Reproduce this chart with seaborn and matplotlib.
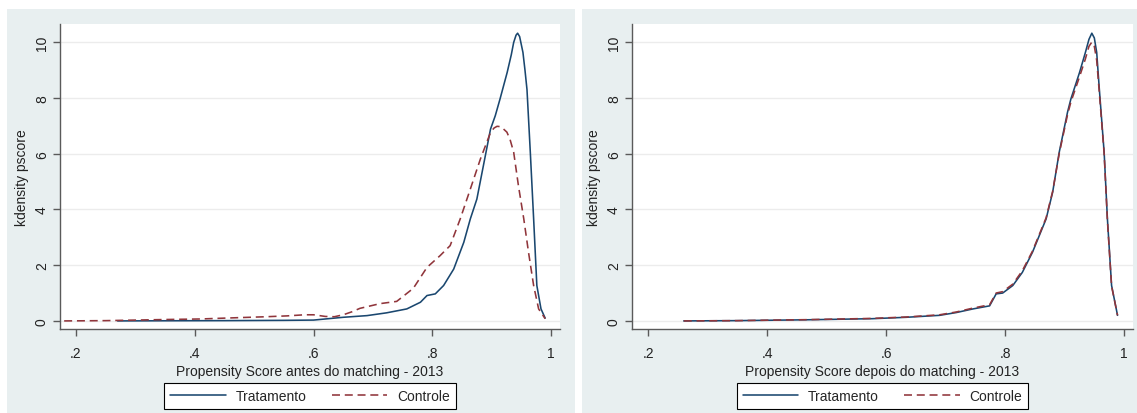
import pandas as pd
import numpy as np
import matplotlib
matplotlib.use("Agg")
import matplotlib.pyplot as plt
from matplotlib.patches import Rectangle
import seaborn as sns

# kernel density of the propensity score
# antes do matching
trat_antes_x = [0.27, 0.35, 0.45, 0.55, 0.60, 0.65, 0.69, 0.723, 0.757, 0.780, 0.791, 0.805,
                0.819, 0.836, 0.853, 0.864, 0.875, 0.886, 0.898, 0.906, 0.914, 0.926, 0.933,
                0.937, 0.941, 0.9436, 0.947, 0.9526, 0.956, 0.9594, 0.965, 0.9706, 0.976,
                0.983, 0.99]
trat_antes_y = [0.0, 0.005, 0.01, 0.02, 0.03, 0.13, 0.19, 0.29, 0.43, 0.67, 0.91, 0.97,
                1.27, 1.86, 2.82, 3.66, 4.37, 5.57, 6.88, 7.36, 7.96, 8.91, 9.55,
                9.99, 10.25, 10.32, 10.2, 9.63, 9.0, 8.3, 6.05, 3.66, 1.27,
                0.43, 0.1]
ctrl_antes_x = [0.18, 0.25, 0.30, 0.35, 0.41, 0.45, 0.52, 0.555, 0.585, 0.60, 0.62, 0.635,
                0.65, 0.665, 0.678, 0.712, 0.740, 0.768, 0.791, 0.813, 0.830, 0.847, 0.864,
                0.881, 0.898, 0.904, 0.909, 0.914, 0.918, 0.9256, 0.931, 0.937, 0.945, 0.954,
                0.962, 0.9706, 0.979, 0.99]
ctrl_antes_y = [0.0, 0.01, 0.03, 0.05, 0.07, 0.1, 0.15, 0.18, 0.22, 0.22, 0.16, 0.15,
                0.22, 0.33, 0.45, 0.62, 0.7, 1.17, 1.92, 2.34, 2.70, 3.66, 4.73,
                5.81, 6.76, 6.92, 6.98, 6.97, 6.92, 6.77, 6.5, 6.05, 4.85, 3.66,
                2.46, 1.27, 0.43, 0.08]

# depois do matching
trat_depois_x = [0.26, 0.35, 0.466, 0.577, 0.634, 0.69, 0.718, 0.746, 0.774, 0.785, 0.796,
                 0.813, 0.829, 0.846, 0.869, 0.880, 0.891, 0.905, 0.9106, 0.925, 0.935,
                 0.941, 0.9458, 0.95, 0.954, 0.958, 0.9665, 0.972, 0.979, 0.989]
trat_depois_y = [0.0, 0.01, 0.04, 0.08, 0.13, 0.2, 0.3, 0.43, 0.54, 0.97, 1.0,
                 1.27, 1.74, 2.46, 3.66, 4.62, 6.05, 7.49, 7.96, 8.9, 9.63,
                 10.1, 10.32, 10.15, 9.63, 8.43, 6.05, 3.66, 1.27, 0.2]
ctrl_depois_x = [0.26, 0.35, 0.466, 0.577, 0.634, 0.69, 0.718, 0.746, 0.774, 0.785, 0.796,
                 0.813, 0.829, 0.846, 0.869, 0.880, 0.891, 0.905, 0.9106, 0.925, 0.935,
                 0.941, 0.9458, 0.95, 0.954, 0.958, 0.9665, 0.972, 0.979, 0.989]
ctrl_depois_y = [0.0, 0.01, 0.045, 0.09, 0.14, 0.22, 0.32, 0.46, 0.58, 1.0, 1.05,
                 1.32, 1.8, 2.5, 3.7, 4.65, 6.0, 7.4, 7.85, 8.75, 9.4,
                 9.85, 10.0, 9.85, 9.35, 8.3, 6.0, 3.6, 1.25, 0.2]

grupos = ["Tratamento", "Controle"]
x_ticks = [0.2, 0.4, 0.6, 0.8, 1.0]
x_tick_labels = [".2", ".4", ".6", ".8", "1"]
y_ticks = [0, 2, 4, 6, 8, 10]
xlabels = ["Propensity Score antes do matching - 2013",
           "Propensity Score depois do matching - 2013"]

def long_df(tx, ty, cx, cy):
    return pd.DataFrame({
        "x": tx + cx,
        "y": ty + cy,
        "grupo": ["Tratamento"] * len(tx) + ["Controle"] * len(cx),
    })

dfs = [long_df(trat_antes_x, trat_antes_y, ctrl_antes_x, ctrl_antes_y),
       long_df(trat_depois_x, trat_depois_y, ctrl_depois_x, ctrl_depois_y)]

sns.set_theme(style="white")
plt.rcParams["font.family"] = ["Liberation Sans", "DejaVu Sans"]

W, H = 1137, 414
fig = plt.figure(figsize=(W / 100, H / 100), dpi=100, facecolor="white")

bg = "#e8eff0"
# panel backgrounds (pixel boxes: left, top, right, bottom)
for (l, t, r, b) in [(7, 10, 575, 414), (582, 10, 1137, 414)]:
    fig.add_artist(Rectangle((l / W, 1 - b / H), (r - l) / W, (b - t) / H,
                             transform=fig.transFigure, facecolor=bg,
                             edgecolor="none", zorder=-5))

axes_px = [(60, 25, 560, 330), (632, 25, 1133, 330)]
pal = {"Tratamento": "#1a476f", "Controle": "#90353b"}
dash = {"Tratamento": "", "Controle": (5, 3)}

for i, (l, t, r, b) in enumerate(axes_px):
    ax = fig.add_axes([l / W, 1 - b / H, (r - l) / W, (b - t) / H])
    ax.set_facecolor("white")
    sns.lineplot(data=dfs[i], x="x", y="y", hue="grupo", style="grupo",
                 hue_order=grupos, style_order=grupos, palette=pal, dashes=dash,
                 estimator=None, sort=False, lw=1.15, ax=ax)
    for ln in ax.get_lines():
        ln.set_solid_joinstyle("round")
        ln.set_dash_joinstyle("round")
    ax.set_xlim(0.173, 1.015)
    ax.set_ylim(-0.29, 10.65)
    ax.set_xticks(x_ticks)
    ax.set_xticklabels(x_tick_labels)
    ax.set_yticks(y_ticks)
    ax.yaxis.grid(True, color="#ececec", lw=1)
    ax.xaxis.grid(False)
    for s in ["top", "right"]:
        ax.spines[s].set_visible(False)
    for s in ["left", "bottom"]:
        ax.spines[s].set_color("#5a5a5a")
        ax.spines[s].set_linewidth(1)
    ax.tick_params(axis="both", which="major", bottom=True, left=True, length=5,
                   width=1, color="#5a5a5a", labelsize=10, labelcolor="#222222")
    ax.tick_params(axis="x", pad=7)
    ax.tick_params(axis="y", pad=3)
    for lab in ax.get_yticklabels():
        lab.set_rotation(90)
        lab.set_va("center")
    ax.set_xlabel(xlabels[i], fontsize=10, color="#222222", labelpad=3)
    ax.set_ylabel("kdensity pscore", fontsize=10, color="#222222", labelpad=4)

    handles, labels = ax.get_legend_handles_labels()
    ax.legend(handles, labels, loc="center", bbox_to_anchor=(0.5, -0.22), ncol=2,
              frameon=True, fancybox=False, edgecolor="black", facecolor="white",
              framealpha=1, fontsize=10, handlelength=4, handletextpad=0.7,
              columnspacing=1.8, borderpad=0.45, borderaxespad=0)
    ax.get_legend().get_frame().set_linewidth(0.8)

fig.savefig("out.png", dpi=100, facecolor="white")
